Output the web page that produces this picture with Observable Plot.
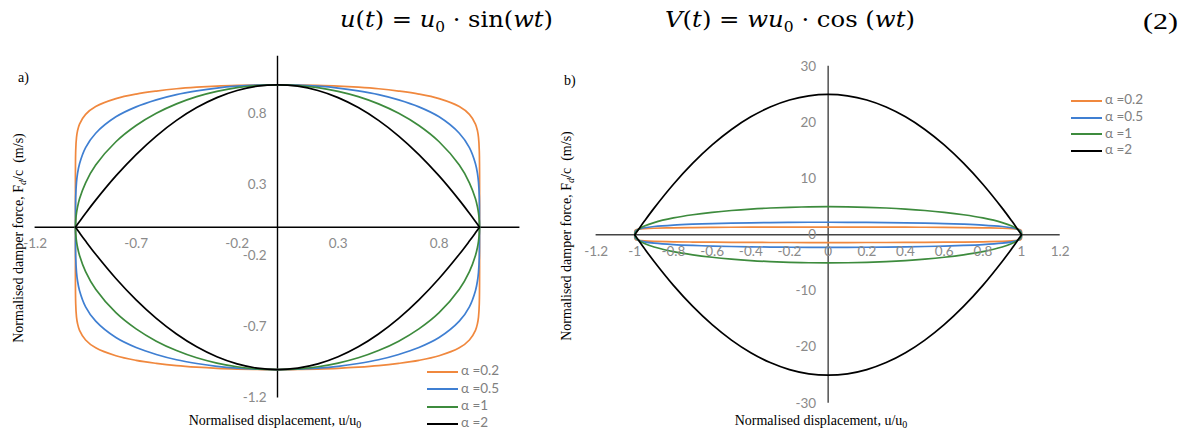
<!DOCTYPE html>
<html>
<head>
<meta charset="utf-8">
<script src="https://cdn.jsdelivr.net/npm/d3@7"></script>
<script src="https://cdn.jsdelivr.net/npm/@observablehq/plot@0.6"></script>
<style>
  html, body { margin: 0; padding: 0; background: #fff; }
  #page { position: relative; width: 1185px; height: 431px; overflow: hidden; background: #fff; }
  .abs { position: absolute; white-space: nowrap; }
  .eq { font-family: "DejaVu Serif", "Liberation Serif", serif; font-size: 22px; color: #000; line-height: 30px; }
  .eq i { font-style: italic; }
  .eq sub { font-size: 14px; vertical-align: -5px; line-height: 0; }
  .eqn { font-family: "Liberation Serif", serif; font-size: 24px; color: #000; line-height: 30px; }
  .ttl { font-family: "Liberation Serif", "Times New Roman", serif; font-size: 14px; color: #000; }
  .ttl sub { font-size: 10px; vertical-align: -3px; line-height: 0; }
  .lg { font-family: Lato, "Open Sans", sans-serif; font-size: 13.5px; color: #808080; }
  .plotsvg { position: absolute; left: 0; top: 0; }
</style>
</head>
<body>
<div id="page"></div>
<script>
// ---- data ----
const alphas = [0.2, 0.5, 1, 2];
const seriesLabels = ["α =0.2", "α =0.5", "α =1", "α =2"];
const seriesColors = ["#F0883E", "#3F7FD2", "#3D8B3D", "#000000"];

// normalised displacement grid (|u/u0|), mirrored for negative side
const uHalf = [0, 0.1, 0.2, 0.3, 0.4, 0.5, 0.6, 0.7, 0.8, 0.9, 0.95, 0.98, 0.99, 0.995, 0.999, 1];

// panel a) upper-branch normalised force
const aF02 = [1, 0.999, 0.996, 0.991, 0.983, 0.972, 0.956, 0.935, 0.903, 0.847, 0.792, 0.724, 0.676, 0.631, 0.537, 0];
const aF05 = [1, 0.9975, 0.990, 0.977, 0.957, 0.931, 0.894, 0.845, 0.775, 0.660, 0.559, 0.446, 0.376, 0.316, 0.211, 0];
const aF1  = [1, 0.995, 0.980, 0.954, 0.917, 0.866, 0.800, 0.714, 0.600, 0.436, 0.312, 0.199, 0.141, 0.100, 0.045, 0];
const aF2  = [1, 0.99, 0.96, 0.91, 0.84, 0.75, 0.64, 0.51, 0.36, 0.19, 0.0975, 0.0396, 0.0199, 0.010, 0.002, 0];

// panel b) upper-branch force
const bF02 = [1.380, 1.378, 1.374, 1.367, 1.356, 1.341, 1.319, 1.290, 1.246, 1.169, 1.093, 0.999, 0.933, 0.871, 0.741, 0];
const bF05 = [2.236, 2.230, 2.214, 2.185, 2.140, 2.082, 1.999, 1.890, 1.733, 1.476, 1.250, 0.997, 0.841, 0.707, 0.472, 0];
const bF1  = [5, 4.975, 4.899, 4.770, 4.583, 4.330, 4.0, 3.571, 3.0, 2.179, 1.561, 0.995, 0.705, 0.499, 0.224, 0];
const bF2  = [25, 24.75, 24, 22.75, 21, 18.75, 16, 12.75, 9, 4.75, 2.44, 0.99, 0.50, 0.25, 0.05, 0];

// tick labels
const aXTicks = [-1.2, -0.7, -0.2, 0.3, 0.8];
const aYTicks = [-1.2, -0.7, -0.2, 0.3, 0.8];
const bXTicks = [-1.2, -1, -0.8, -0.6, -0.4, -0.2, 0, 0.2, 0.4, 0.6, 0.8, 1, 1.2];
const bYTicks = [-30, -20, -10, 0, 10, 20, 30];

// ---- build loop tables ----
function buildRows(seriesArrays) {
  const rows = [];
  seriesArrays.forEach((F, s) => {
    for (const sign of [1, -1]) {
      const key = seriesLabels[s] + (sign > 0 ? "+" : "-");
      for (let i = uHalf.length - 1; i >= 0; i--) rows.push({series: seriesLabels[s], key, u: -uHalf[i], f: sign * F[i]});
      for (let i = 1; i < uHalf.length; i++) rows.push({series: seriesLabels[s], key, u: uHalf[i], f: sign * F[i]});
    }
  });
  return rows;
}
const rowsA = buildRows([aF02, aF05, aF1, aF2]);
const rowsB = buildRows([bF02, bF05, bF1, bF2]);

const W = 1185, H = 431;
const tickFont = "Lato, 'Open Sans', sans-serif";
const tickGrey = "#8a8a8a";
const fmt = d => String(d);

// ---- panel a ----
const plotA = Plot.plot({
  width: W, height: H,
  marginLeft: 34.6, marginRight: W - 519.4, marginTop: 55.8, marginBottom: H - 397.6,
  x: {domain: [-1.2, 1.2], axis: null},
  y: {domain: [-1.2, 1.2], axis: null},
  color: {domain: seriesLabels, range: seriesColors},
  style: {background: "transparent", overflow: "visible"},
  marks: [
    Plot.ruleY([0], {x1: -1.2, x2: 1.2, stroke: "#000", strokeWidth: 1.4}),
    Plot.ruleX([0], {y1: -1.2, y2: 1.2, stroke: "#000", strokeWidth: 1.4}),
    Plot.line(rowsA, {x: "u", y: "f", z: "key", stroke: "series", strokeWidth: 1.7, curve: "catmull-rom"}),
    Plot.text(aXTicks, {x: d => d, y: 0, dy: 16, text: d => fmt(d), fill: tickGrey, fontSize: 13.5, fontFamily: tickFont}),
    Plot.text(aYTicks, {x: 0, y: d => d, dx: -11, textAnchor: "end", text: d => fmt(d), fill: tickGrey, fontSize: 13.5, fontFamily: tickFont})
  ]
});
plotA.classList.add("plotsvg");

// ---- panel b ----
const plotB = Plot.plot({
  width: W, height: H,
  marginLeft: 595.6, marginRight: W - 1059.7, marginTop: 65.8, marginBottom: H - 402.8,
  x: {domain: [-1.2, 1.2], axis: null},
  y: {domain: [-30, 30], axis: null},
  color: {domain: seriesLabels, range: seriesColors},
  style: {background: "transparent", overflow: "visible"},
  marks: [
    Plot.ruleY([0], {x1: -1.2, x2: 1.2, stroke: "#444", strokeWidth: 1.4}),
    Plot.ruleX([0], {y1: -30, y2: 30, stroke: "#444", strokeWidth: 1.4}),
    Plot.line(rowsB, {x: "u", y: "f", z: "key", stroke: "series", strokeWidth: 1.7, curve: "catmull-rom"}),
    Plot.text(bXTicks, {x: d => d, y: 0, dy: 17, text: d => fmt(d), fill: tickGrey, fontSize: 13.5, fontFamily: tickFont}),
    Plot.text(bYTicks, {x: 0, y: d => d, dx: -12, textAnchor: "end", text: d => fmt(d), fill: tickGrey, fontSize: 13.5, fontFamily: tickFont})
  ]
});
plotB.classList.add("plotsvg");

const page = document.getElementById("page");
page.appendChild(plotA);
page.appendChild(plotB);

function addHTML(html, css, cls) {
  const d = document.createElement("div");
  d.className = "abs " + (cls || "");
  d.innerHTML = html;
  Object.assign(d.style, css);
  page.appendChild(d);
  return d;
}
function fitWidth(el, target) {
  const w = el.getBoundingClientRect().width;
  if (w > 0) {
    el.style.transformOrigin = "left top";
    el.style.transform = `scaleX(${target / w})`;
  }
}

// equation line
const e1 = addHTML('<i>u</i>(<i>t</i>) = <i>u</i><sub>0</sub> · sin(<i>wt</i>)', {left: "340px", top: "5px"}, "eq");
const e2 = addHTML('<i>V</i>(<i>t</i>) = <i>wu</i><sub>0</sub> · cos (<i>wt</i>)', {left: "665px", top: "5px"}, "eq");
const e3 = addHTML('(2)', {left: "1143px", top: "6px"}, "eqn");
fitWidth(e1, 213);
fitWidth(e2, 250);
fitWidth(e3, 35);

// panel labels
addHTML('a)', {left: "18px", top: "70px"}, "ttl");
addHTML('b)', {left: "564px", top: "73px"}, "ttl");

// axis titles
const yTitle = 'Normalised damper force, F<sub><i>d</i></sub>/c&nbsp; (m/s)';
const xTitle = 'Normalised displacement, u/u<sub>0</sub>';
addHTML(yTitle, {left: "19px", top: "238px", transform: "translate(-50%,-50%) rotate(-90deg)"}, "ttl");
addHTML(yTitle, {left: "567px", top: "236px", transform: "translate(-50%,-50%) rotate(-90deg)"}, "ttl");
addHTML(xTitle, {left: "275px", top: "421px", transform: "translate(-50%,-50%)"}, "ttl");
addHTML(xTitle, {left: "821px", top: "421px", transform: "translate(-50%,-50%)"}, "ttl");

// legends
function legend(x, ys) {
  seriesLabels.forEach((lab, i) => {
    addHTML(
      `<svg width="31" height="4" style="vertical-align:middle;margin-right:3px"><line x1="0" x2="31" y1="2" y2="2" stroke="${seriesColors[i]}" stroke-width="2"/></svg>${lab}`,
      {left: x + "px", top: (ys[i] - 9) + "px", lineHeight: "18px"}, "lg");
  });
}
legend(427, [370, 387.5, 405, 422]);
legend(1071, [99, 116, 132.5, 149]);
</script>
</body>
</html>
